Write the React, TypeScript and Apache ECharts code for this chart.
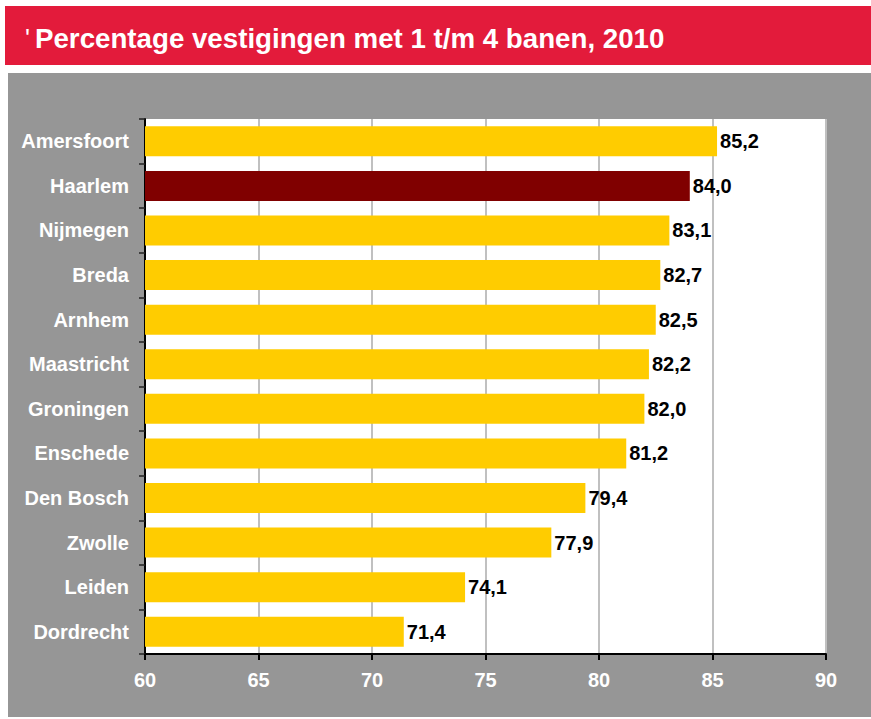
import React, { useEffect, useRef } from "react";
import * as echarts from "echarts";

const cities = [
  "Amersfoort",
  "Haarlem",
  "Nijmegen",
  "Breda",
  "Arnhem",
  "Maastricht",
  "Groningen",
  "Enschede",
  "Den Bosch",
  "Zwolle",
  "Leiden",
  "Dordrecht",
];
const values = [85.2, 84.0, 83.1, 82.7, 82.5, 82.2, 82.0, 81.2, 79.4, 77.9, 74.1, 71.4];
const highlighted = "Haarlem";
const titleText = "Percentage vestigingen met 1 t/m 4 banen, 2010";

const FONT = '"Liberation Sans", Arial, Helvetica, sans-serif';

export default function App() {
  const ref = useRef<HTMLDivElement>(null);
  useEffect(() => {
    if (!ref.current) return;
    const chart = echarts.init(ref.current, null, { renderer: "svg" });
    chart.setOption({
      animation: false,
      backgroundColor: "#ffffff",
      graphic: [
        {
          type: "rect",
          z: -10,
          shape: { x: 5, y: 6, width: 866, height: 59 },
          style: { fill: "#E31B3B" },
          silent: true,
        },
        {
          type: "rect",
          z: -10,
          shape: { x: 8, y: 73, width: 863, height: 644 },
          style: { fill: "#969696" },
          silent: true,
        },
        {
          type: "rect",
          z: -9,
          shape: { x: 145, y: 119, width: 681, height: 535 },
          style: { fill: "#ffffff" },
          silent: true,
        },
        {
          type: "text",
          x: 25,
          y: 25,
          style: {
            text: "'",
            fill: "#ffffff",
            font: `normal 26px ${FONT}`,
          },
        },
        {
          type: "text",
          x: 35,
          y: 38,
          style: {
            text: titleText,
            fill: "#ffffff",
            font: `bold 27.7px ${FONT}`,
            textVerticalAlign: "middle",
          },
        },
      ],
      grid: { left: 145, right: 45, top: 119, bottom: 65, containLabel: false },
      xAxis: {
        type: "value",
        min: 60,
        max: 90,
        interval: 5,
        axisLine: { show: true, lineStyle: { color: "#000", width: 2 } },
        axisTick: { show: true, length: 6, lineStyle: { color: "#000", width: 2 } },
        axisLabel: {
          color: "#fff",
          fontFamily: FONT,
          fontWeight: "bold",
          fontSize: 20,
          margin: 16,
        },
        splitLine: { show: true, lineStyle: { color: "#c0c0c0", width: 2 } },
      },
      yAxis: {
        type: "category",
        data: cities,
        inverse: true,
        axisLine: { show: true, lineStyle: { color: "#000", width: 2 } },
        axisTick: { show: true, length: 6, alignWithLabel: false, lineStyle: { color: "#222", width: 1.5 } },
        axisLabel: {
          color: "#fff",
          fontFamily: FONT,
          fontWeight: "bold",
          fontSize: 20,
          margin: 16,
        },
        splitLine: { show: false },
      },
      series: [
        {
          type: "bar",
          barWidth: 30,
          data: values.map((v, i) => ({
            value: v,
            itemStyle: { color: cities[i] === highlighted ? "#800000" : "#FFCC00" },
          })),
          label: {
            show: true,
            position: "right",
            distance: 3,
            color: "#000",
            fontFamily: FONT,
            fontWeight: "bold",
            fontSize: 20,
            formatter: (p: any) => p.value.toFixed(1).replace(".", ","),
          },
        },
      ],
    });
    return () => chart.dispose();
  }, []);
  return (
    <div
      ref={ref}
      style={{ position: "absolute", left: 0, top: 0, width: 871, height: 719 }}
    />
  );
}
